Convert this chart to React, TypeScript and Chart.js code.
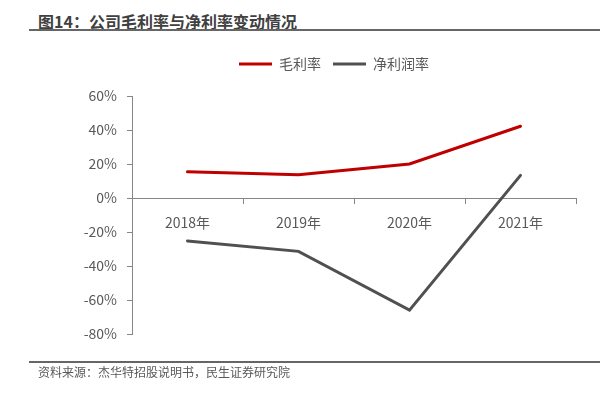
import React, { useEffect, useRef } from "react";
import { Chart, registerables } from "chart.js";

Chart.register(...registerables);

const categories = ["2018年", "2019年", "2020年", "2021年"];
const grossMargin = [15.4, 13.7, 20.0, 42.2];
const netMargin = [-25.3, -31.4, -66.0, 13.3];
const yTicks = { min: -80, max: 60, step: 20 };

const FONT = '"Noto Sans CJK SC", "Noto Sans", sans-serif';

const legendSpacer = {
  id: "legendSpacer",
  beforeInit(chart: any) {
    const lg = chart.legend;
    if (!lg) return;
    const orig = lg.fit;
    lg.fit = function fit() {
      orig.bind(lg)();
      this.height += 15;
    };
  },
  afterLayout(chart: any) {
    const lg = chart.legend;
    if (lg) {
      lg.left += 20;
    }
  },
};

export default function App() {
  const ref = useRef<HTMLCanvasElement | null>(null);

  useEffect(() => {
    if (!ref.current) return;
    const chart = new Chart(ref.current, {
      type: "line",
      data: {
        labels: categories,
        datasets: [
          {
            label: "毛利率",
            data: grossMargin,
            borderColor: "#C00000",
            backgroundColor: "#C00000",
            borderWidth: 3,
            borderCapStyle: "round",
            pointRadius: 0,
            tension: 0,
          },
          {
            label: "净利润率",
            data: netMargin,
            borderColor: "#505050",
            backgroundColor: "#505050",
            borderWidth: 3,
            borderCapStyle: "round",
            pointRadius: 0,
            tension: 0,
          },
        ],
      },
      options: {
        responsive: false,
        animation: false,
        layout: { padding: { top: 45, left: 72, right: 38, bottom: 63 } },
        plugins: {
          legend: {
            position: "top",
            align: "center",
            labels: {
              usePointStyle: true,
              pointStyle: "line",
              pointStyleWidth: 33,
              padding: 12,
              color: "#595959",
              font: { family: FONT, size: 14 },
            },
          },
          tooltip: { enabled: false },
        },
        scales: {
          x: {
            type: "category",
            position: { y: 0 },
            offset: true,
            grid: {
              offset: true,
              drawOnChartArea: false,
              drawTicks: true,
              tickLength: 5,
              color: "#868686",
            },
            border: { color: "#868686", width: 1 },
            ticks: {
              color: "#595959",
              padding: 11,
              maxRotation: 0,
              font: { family: FONT, size: 14 },
            },
          },
          y: {
            min: yTicks.min,
            max: yTicks.max,
            afterFit(scale: any) {
              scale.width = 60;
            },
            grid: {
              drawOnChartArea: false,
              drawTicks: true,
              tickLength: 5,
              color: "#868686",
            },
            border: { color: "#868686", width: 1 },
            ticks: {
              stepSize: yTicks.step,
              color: "#595959",
              padding: 10,
              font: { family: FONT, size: 14 },
              callback: (v: any) => `${v}%`,
            },
          },
        },
      },
      plugins: [legendSpacer],
    } as any);
    return () => chart.destroy();
  }, []);

  return (
    <div style={{ position: "absolute", left: 0, top: 0, width: 614, height: 397, background: "#fff", fontFamily: FONT }}>
      <div
        style={{
          position: "absolute",
          left: 38,
          top: 11,
          lineHeight: "20px",
          fontSize: 16,
          fontWeight: "bold",
          color: "#404040",
          whiteSpace: "nowrap",
        }}
      >
        图14：公司毛利率与净利率变动情况
      </div>
      <div style={{ position: "absolute", left: 29, top: 29, width: 571, height: 2, background: "#666" }} />
      <canvas ref={ref} width={614} height={397} style={{ position: "absolute", left: 0, top: 0 }} />
      <div style={{ position: "absolute", left: 29, top: 361, width: 571, height: 2, background: "#666" }} />
      <div
        style={{
          position: "absolute",
          left: 38,
          top: 363,
          lineHeight: "18px",
          fontSize: 12,
          color: "#595959",
          whiteSpace: "nowrap",
        }}
      >
        资料来源：杰华特招股说明书，民生证券研究院
      </div>
    </div>
  );
}
